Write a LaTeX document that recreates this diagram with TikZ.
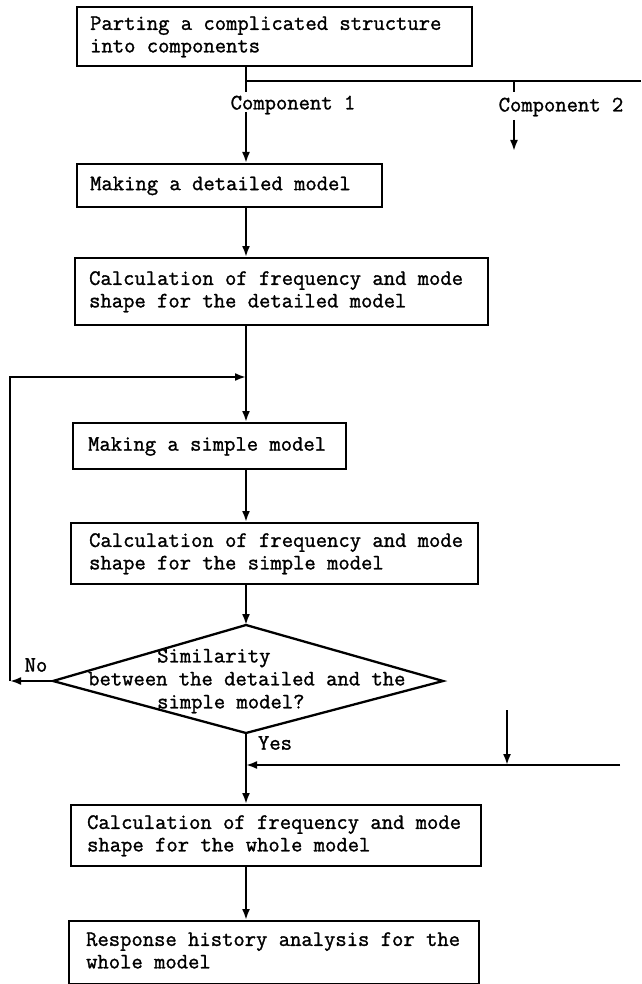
\documentclass[tikz,border=0pt]{standalone}
\usepackage{fontspec}
\setmonofont{Latin Modern Mono}[FakeBold=1.3]
\usetikzlibrary{arrows.meta}
\newcommand\flowfont{\fontsize{22}{22.5}\selectfont\ttfamily}
\newcommand\diafont{\fontsize{22}{23}\selectfont\ttfamily}
\newcommand\boxtext[3]{\makebox[#1][l]{\begin{tabular}{@{\hspace*{#2}}l@{}}#3\end{tabular}}}
\tikzset{
  flowbox/.style={draw, line width=2.3pt, anchor=north west, inner xsep=0pt, inner ysep=0pt,
    font=\flowfont},
  lbl/.style={font=\flowfont, inner sep=0pt},
  ln/.style={line width=2pt},
  arr/.style={line width=2pt, -{Latex[length=11pt,width=8pt]}},
}
\begin{document}
\begin{tikzpicture}[x=1pt,y=-1pt]
\useasboundingbox (0,0) rectangle (641,984);
% boxes
\node[flowbox, minimum height=59pt] (box1) at (76,6)
  {\boxtext{395pt}{13pt}{Parting a complicated structure\\into components}};
\node[flowbox, minimum height=43pt] (mdet) at (76,163)
  {\boxtext{305pt}{13pt}{Making a detailed model}};
\node[flowbox, minimum height=67pt] (cdet) at (74,257)
  {\boxtext{413pt}{14pt}{Calculation of frequency and mode\\shape for the detailed model}};
\node[flowbox, minimum height=46pt] (msim) at (72,422)
  {\boxtext{273pt}{15pt}{Making a simple model}};
\node[flowbox, minimum height=61pt] (csim) at (70,522)
  {\boxtext{407pt}{18pt}{Calculation of frequency and mode\\shape for the simple model}};
\node[flowbox, minimum height=61pt] (cwho) at (70,804)
  {\boxtext{410pt}{16pt}{Calculation of frequency and mode\\shape for the whole model}};
\node[flowbox, minimum height=63pt] (resp) at (68,920)
  {\boxtext{410pt}{17pt}{Response history analysis for the\\whole model}};
% diamond
\coordinate (dT) at (246,625);
\coordinate (dR) at (443,681);
\coordinate (dB) at (246,733);
\coordinate (dL) at (53,681);
\draw[line width=2.3pt, line join=miter] (dT) -- (dR) -- (dB) -- (dL) -- cycle;
\node[lbl, anchor=west, align=left, font=\diafont] (dtext) at (88,681)
  {\hspace*{69pt}Similarity\\between the detailed and the\\\hspace*{69pt}simple model?};
% labels
\node[lbl] (comp1) at (293,105) {Component 1};
\node[lbl] (comp2) at (561,107) {Component 2};
\node[lbl] (no) at (36,665) {No};
\node[lbl] (yes) at (275,743) {Yes};
% coordinates
\coordinate (c1a) at (246,92);
\coordinate (c1b) at (246,112);
\coordinate (br0) at (246,81);
\coordinate (brR) at (641,81);
\coordinate (c2t) at (514,81);
\coordinate (c2m) at (514,92);
\coordinate (c2a) at (514,120);
\coordinate (c2e) at (514,151);
\coordinate (lp) at (10,681);
\coordinate (lj) at (246,377);
\coordinate (yR) at (620,765);
\coordinate (vt) at (507,710);
% connectors
\draw[ln] (box1.south -| c1a) -- (c1a);
\draw[ln] (br0) -- (brR);
\draw[ln] (c2t) -- (c2m);
\draw[arr] (c2a) -- (c2e);
\draw[arr] (c1b) -- (mdet.north -| c1b);
\draw[arr] (mdet.south -| c1b) -- (cdet.north -| c1b);
\draw[arr] (cdet.south -| c1b) -- (msim.north -| c1b);
\draw[arr] (lp) |- (lj);
\draw[arr] (msim.south -| c1b) -- (csim.north -| c1b);
\draw[arr] (csim.south -| c1b) -- (dT);
\draw[arr] (dL) -- (lp);
\draw[arr] (dB) -- (cwho.north -| c1b);
\draw[arr] (yR) -- (yR -| c1b);
\draw[arr] (vt) -- (vt |- yR);
\draw[arr] (cwho.south -| c1b) -- (resp.north -| c1b);
\end{tikzpicture}
\end{document}
